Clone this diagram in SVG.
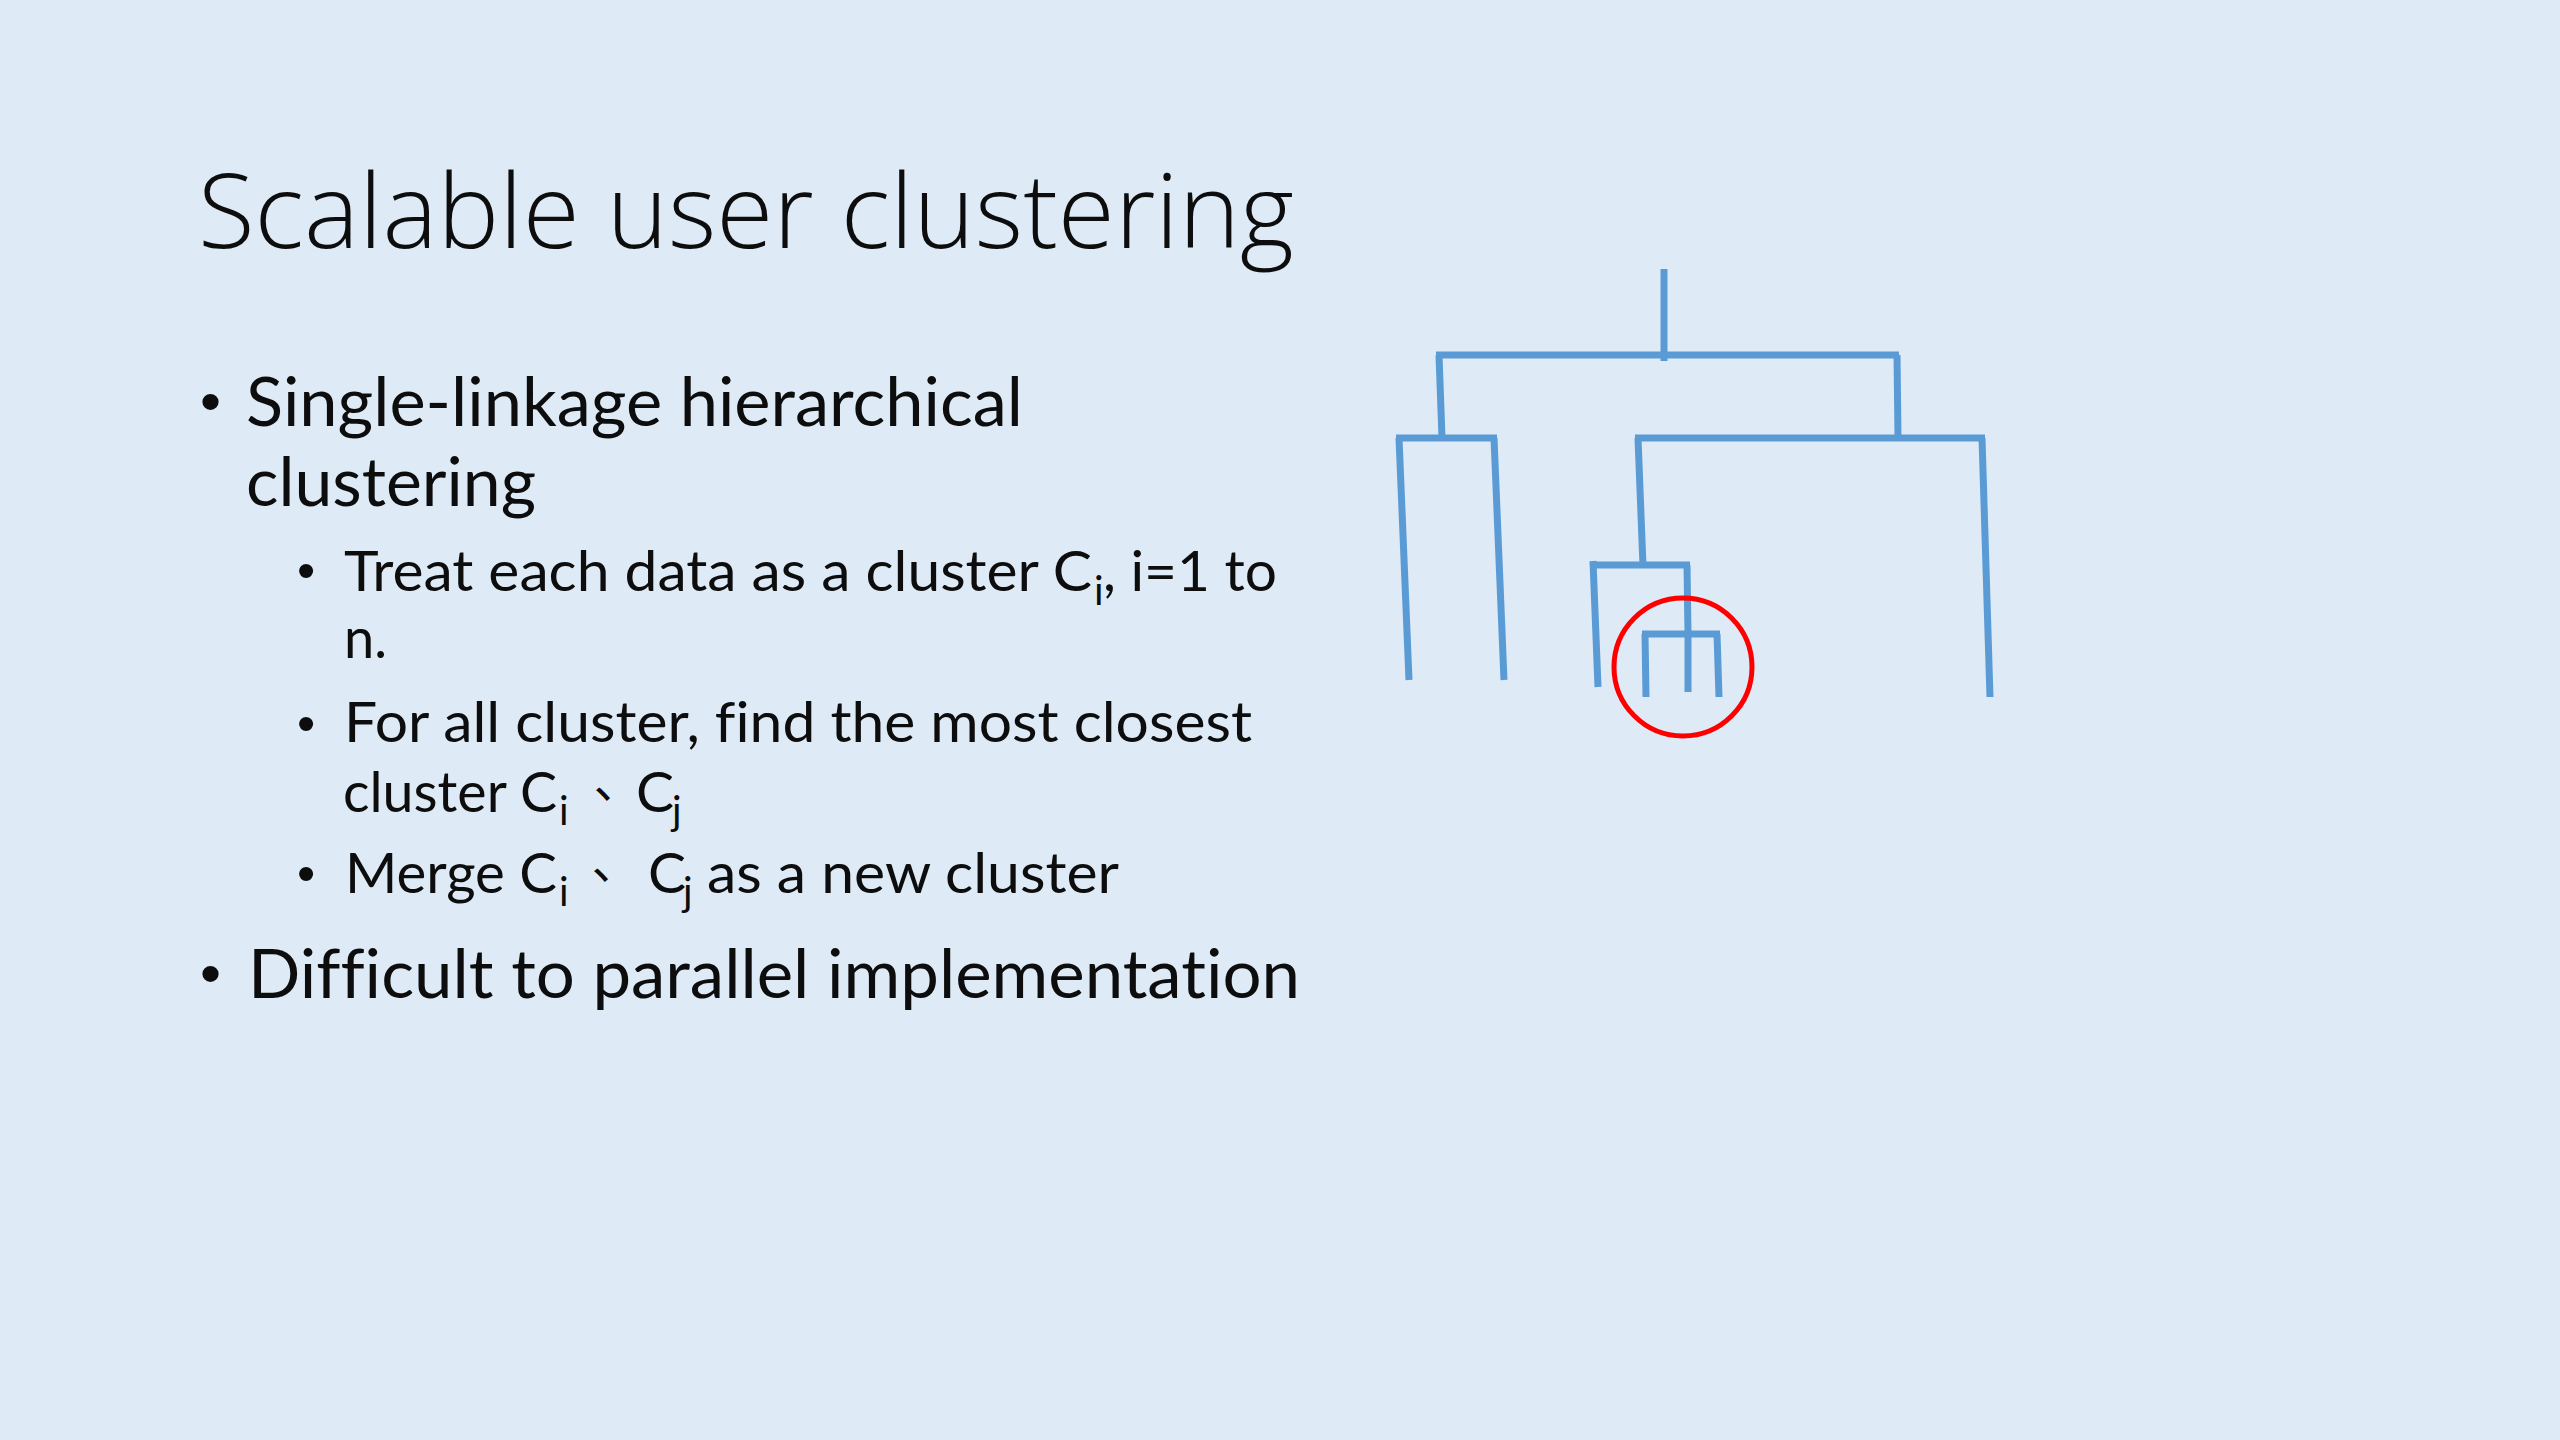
<svg xmlns="http://www.w3.org/2000/svg" width="2560" height="1440" viewBox="0 0 2560 1440">
  <style>
    .txt { font-family: Lato, "Open Sans", "Liberation Sans", sans-serif; fill: #0d0d0d; font-variant-ligatures: none; font-feature-settings: "liga" 0, "dlig" 0; }
    .t1 { font-size: 67px; }
    .t2 { font-size: 57px; }
    .sub { font-size: 40px; }
    .cjk { font-family: "Noto Sans CJK TC", sans-serif; font-size: 48px; fill: #0d0d0d; }
    .bul { font-family: "Liberation Sans", Arial, sans-serif; fill: #0d0d0d; }
    .den line { stroke: #5B9BD5; stroke-width: 7; stroke-linecap: butt; }
  </style>
  <rect x="0" y="0" width="2560" height="1440" fill="#DEEBF7"/>

  <g id="title">
    <text x="198" y="248" font-family="'Open Sans', Lato, sans-serif" font-size="104" font-weight="300" fill="#0d0d0d" textLength="1096" lengthAdjust="spacingAndGlyphs">Scalable user clustering</text>
  </g>

  <g id="bullets">
    <text class="bul" x="200" y="422" font-size="60">•</text>
    <text class="txt t1" x="246" y="426" textLength="777" lengthAdjust="spacingAndGlyphs">Single-linkage hierarchical</text>
    <text class="txt t1" x="246" y="506" textLength="290" lengthAdjust="spacingAndGlyphs">clustering</text>

    <text class="bul" x="297" y="588" font-size="52">•</text>
    <text class="txt t2" x="344" y="591" textLength="748" lengthAdjust="spacingAndGlyphs">Treat each data as a cluster C</text>
    <text class="txt sub" x="1094" y="605">i</text>
    <text class="txt t2" x="1103" y="591" textLength="174" lengthAdjust="spacingAndGlyphs">, i=1 to</text>
    <text class="txt t2" x="344" y="658" textLength="43" lengthAdjust="spacingAndGlyphs">n.</text>

    <text class="bul" x="297" y="741" font-size="52">•</text>
    <text class="txt t2" x="344" y="742" textLength="908" lengthAdjust="spacingAndGlyphs">For all cluster, find the most closest</text>
    <text class="txt t2" x="343" y="812" textLength="214" lengthAdjust="spacingAndGlyphs">cluster C</text>
    <text class="txt sub" x="559" y="825">i</text>
    <text class="cjk" x="579" y="812">、</text>
    <text class="txt t2" x="636" y="812">C</text>
    <text class="txt sub" x="672" y="825">j</text>

    <text class="bul" x="297" y="891" font-size="52">•</text>
    <text class="txt t2" x="345" y="893" textLength="212" lengthAdjust="spacingAndGlyphs">Merge C</text>
    <text class="txt sub" x="559" y="906">i</text>
    <text class="cjk" x="577" y="893">、</text>
    <text class="txt t2" x="648" y="893">C</text>
    <text class="txt sub" x="683" y="906">j</text>
    <text class="txt t2" x="707" y="893" textLength="412" lengthAdjust="spacingAndGlyphs">as a new cluster</text>

    <text class="bul" x="200" y="994" font-size="60">•</text>
    <text class="txt t1" x="248" y="998" textLength="1052" lengthAdjust="spacingAndGlyphs">Difficult to parallel implementation</text>
  </g>

  <g id="dendrogram" class="den">
    <line x1="1664" y1="269" x2="1664" y2="361"/>
    <line x1="1436" y1="355" x2="1899" y2="355"/>
    <line x1="1439" y1="355" x2="1442" y2="438"/>
    <line x1="1897" y1="355" x2="1898" y2="438"/>
    <line x1="1396" y1="438" x2="1497" y2="438"/>
    <line x1="1399" y1="438" x2="1409" y2="680"/>
    <line x1="1494" y1="438" x2="1504" y2="680"/>
    <line x1="1635" y1="438" x2="1985" y2="438"/>
    <line x1="1982" y1="438" x2="1990" y2="697"/>
    <line x1="1638" y1="438" x2="1643" y2="566"/>
    <line x1="1590" y1="565" x2="1690" y2="565"/>
    <line x1="1593" y1="561" x2="1598" y2="687"/>
    <line x1="1687" y1="565" x2="1688" y2="634"/>
    <line x1="1642" y1="634" x2="1720" y2="634"/>
    <line x1="1645" y1="634" x2="1646" y2="697"/>
    <line x1="1688" y1="634" x2="1688" y2="692"/>
    <line x1="1717" y1="634" x2="1719" y2="697"/>
  </g>

  <g id="highlight">
    <circle cx="1683" cy="667" r="69" fill="none" stroke="#FF0000" stroke-width="5"/>
  </g>
</svg>
